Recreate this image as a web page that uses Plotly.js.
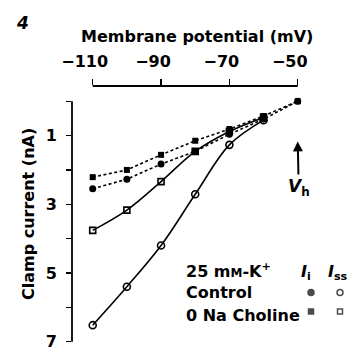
<!DOCTYPE html>
<html>
<head>
<meta charset="utf-8">
<script src="https://cdn.plot.ly/plotly-3.0.1.min.js"></script>
<style>html,body{margin:0;padding:0;background:#fff;}#chart{width:353px;height:354px;}</style>
</head>
<body>
<div id="chart"></div>
<script>
// ---- data ----
var potentialI = [-110, -100, -90, -80, -70, -60, -50];   // mV, instantaneous (dashed) series
var potentialSS = [-110, -100, -90, -80, -70, -60];        // mV, steady-state (solid) series
var controlIi = [2.55, 2.27, 1.83, 1.46, 0.96, 0.52, 0.0];
var cholineIi = [2.21, 2.00, 1.56, 1.15, 0.81, 0.43, 0.0];
var controlIss = [6.52, 5.40, 4.20, 2.71, 1.27, 0.55];
var cholineIss = [3.76, 3.17, 2.34, 1.46, 0.88, 0.47];
var xTickVals = [-110, -90, -70, -50];
var xTickText = ['\u2212110', '\u221290', '\u221270', '\u221250'];
var yTickVals = [1, 3, 5, 7];
var yTickText = ['1', '3', '5', '7'];
var yMinorTicks = [0, 2, 4, 6];
var holdingPotential = -50;

// ---- layout constants ----
var L = 72, R = 353, T = 86, B = 342;
function px(x) { return (x - L) / (R - L); }
function py(y) { return (B - y) / (B - T); }
var FONT = 'DejaVu Sans';
var bold = {family: FONT, size: 16, color: '#000', weight: 700};

var traces = [
  {x: potentialI, y: cholineIi, mode: 'lines+markers', cliponaxis: false,
   line: {color: '#000', width: 1.6, dash: '3px,2.5px'},
   marker: {symbol: 'square', size: 6, color: '#000'}},
  {x: potentialI, y: controlIi, mode: 'lines+markers', cliponaxis: false,
   line: {color: '#000', width: 1.6, dash: '3px,2.5px'},
   marker: {symbol: 'circle', size: 7, color: '#000'}},
  {x: potentialSS, y: cholineIss, mode: 'lines+markers', cliponaxis: false,
   line: {color: '#000', width: 1.6, shape: 'spline'},
   marker: {symbol: 'square-open', size: 6, color: '#000', line: {width: 1.6}}},
  {x: potentialSS, y: controlIss, mode: 'lines+markers', cliponaxis: false,
   line: {color: '#000', width: 1.6, shape: 'spline'},
   marker: {symbol: 'circle-open', size: 7, color: '#000', line: {width: 1.6}}},
  // legend keys on a pixel-like overlay axis
  {x: [311, 340, 311, 340], y: [292.5, 292.5, 311.5, 311.5], xaxis: 'x2', yaxis: 'y2', mode: 'markers',
   marker: {symbol: ['circle', 'circle-open', 'square', 'square-open'], size: [6, 6, 5, 5], color: '#000', line: {width: 1.5, color: '#000'}}}
];

var layout = {
  width: 353, height: 354,
  margin: {l: L, r: 353 - R, t: T, b: 354 - B, pad: 0},
  paper_bgcolor: '#fff', plot_bgcolor: '#fff',
  showlegend: false,
  xaxis: {
    range: [-116.06, -33.82], side: 'top',
    tickmode: 'array', tickvals: xTickVals, ticktext: xTickText,
    ticks: 'outside', ticklen: 6, tickwidth: 1.5, tickcolor: '#000',
    ticklabelstandoff: 6, ticklabelshift: -8,
    showline: false, showgrid: false, zeroline: false,
    tickfont: bold
  },
  yaxis: {
    range: [7.01, -0.444],
    tickmode: 'array', tickvals: yTickVals, ticktext: yTickText,
    ticks: 'outside', ticklen: 5, tickwidth: 1.5, tickcolor: '#000',
    minor: {tickmode: 'array', tickvals: yMinorTicks, ticks: 'outside', ticklen: 5, tickwidth: 1.5, tickcolor: '#000', showgrid: false},
    ticklabelstandoff: 6,
    showline: false, showgrid: false, zeroline: false,
    tickfont: bold
  },
  xaxis2: {overlaying: 'x', anchor: 'y2', range: [L, R], visible: false},
  yaxis2: {overlaying: 'y', anchor: 'x2', range: [B, T], visible: false},
  shapes: [
    {type: 'line', xref: 'paper', yref: 'y', x0: 0, x1: 0, y0: yMinorTicks[0], y1: yTickVals[yTickVals.length - 1],
     line: {color: '#000', width: 1.8}},
    {type: 'line', xref: 'x', yref: 'paper', x0: xTickVals[0], x1: xTickVals[xTickVals.length - 1], y0: 1, y1: 1,
     line: {color: '#000', width: 1.8}}
  ],
  annotations: [
    {xref: 'paper', yref: 'paper', x: px(197), y: py(36), text: 'Membrane potential (mV)', showarrow: false,
     xanchor: 'center', yanchor: 'middle', font: bold},
    {xref: 'paper', yref: 'paper', x: px(28), y: py(214), xanchor: 'center', yanchor: 'middle', textangle: -90,
     text: 'Clamp current (nA)', showarrow: false, font: bold},
    {xref: 'paper', yref: 'paper', x: px(22), y: py(23), text: '<i>4</i>', showarrow: false,
     xanchor: 'center', yanchor: 'middle', font: {family: FONT, size: 17, color: '#000', weight: 700}},
    {xref: 'x', yref: 'y', x: holdingPotential, y: 1.17, ax: 1, ay: 46,
     text: '<i>V</i><sub>h</sub>', showarrow: true, arrowhead: 2, arrowsize: 1, arrowwidth: 2, arrowcolor: '#000',
     font: {family: FONT, size: 17, color: '#000', weight: 700}},
    {xref: 'paper', yref: 'paper', x: px(184), y: py(270), xanchor: 'left', yanchor: 'middle', showarrow: false,
     text: '25 m<span style="font-size:12px">M</span>-K<sup>+</sup>', font: bold},
    {xref: 'paper', yref: 'paper', x: px(184), y: py(292.5), xanchor: 'left', yanchor: 'middle', showarrow: false,
     text: 'Control', font: bold},
    {xref: 'paper', yref: 'paper', x: px(184), y: py(315), xanchor: 'left', yanchor: 'middle', showarrow: false,
     text: '0 Na Choline', font: bold},
    {xref: 'paper', yref: 'paper', x: px(306), y: py(272), xanchor: 'center', yanchor: 'middle', showarrow: false,
     text: '<i>I</i><sub>i</sub>', font: bold},
    {xref: 'paper', yref: 'paper', x: px(338), y: py(272), xanchor: 'center', yanchor: 'middle', showarrow: false,
     text: '<i>I</i><sub>ss</sub>', font: bold}
  ]
};

Plotly.newPlot('chart', traces, layout, {staticPlot: true, displayModeBar: false});
</script>
</body>
</html>
